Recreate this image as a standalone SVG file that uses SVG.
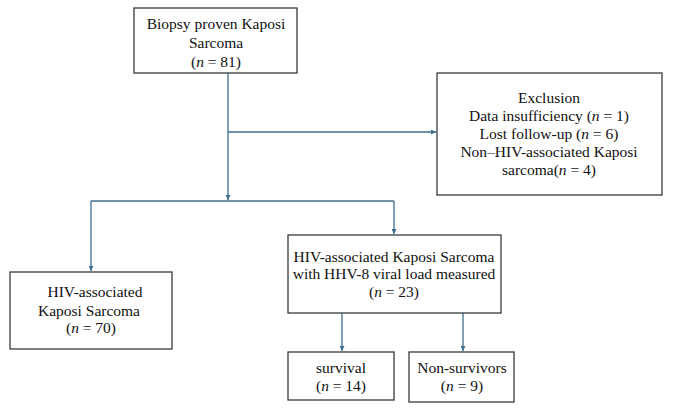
<svg xmlns="http://www.w3.org/2000/svg" width="673" height="408" viewBox="0 0 673 408">
<style>
.box{fill:#fff;stroke:#3a3a3a;stroke-width:1.3}
.t{font-family:"Liberation Serif","Times New Roman",serif;font-size:15.5px;fill:#111;text-anchor:middle}
.c{fill:none;stroke:#3f6d8c;stroke-width:1.3}
</style>
<defs>
<marker id="a" viewBox="0 0 6 6" refX="6" refY="3" markerWidth="5" markerHeight="5" orient="auto" markerUnits="userSpaceOnUse">
<path d="M0,0 L6,3 L0,6 z" fill="#3f6d8c"/>
</marker>
</defs>
<rect width="673" height="408" fill="#fff"/>
<g id="connectors">
<path class="c" d="M228,73 V200" marker-end="url(#a)"/>
<path class="c" d="M228,132 H436" marker-end="url(#a)"/>
<path class="c" d="M91,201 H394"/>
<path class="c" d="M91,201 V271" marker-end="url(#a)"/>
<path class="c" d="M394,201 V234" marker-end="url(#a)"/>
<path class="c" d="M342,313 V351" marker-end="url(#a)"/>
<path class="c" d="M463,313 V351" marker-end="url(#a)"/>
</g>
<g id="n1">
<rect class="box" x="134" y="8" width="163" height="65"/>
<text class="t" x="216" y="29">Biopsy proven Kaposi</text>
<text class="t" x="216" y="48">Sarcoma</text>
<text class="t" x="216" y="67">(<tspan font-style="italic">n</tspan> = 81)</text>
</g>
<g id="n2">
<rect class="box" x="437" y="73" width="225" height="122"/>
<text class="t" x="549" y="103">Exclusion</text>
<text class="t" x="549" y="121">Data insufficiency (<tspan font-style="italic">n</tspan> = 1)</text>
<text class="t" x="549" y="139">Lost follow-up (<tspan font-style="italic">n</tspan> = 6)</text>
<text class="t" x="549" y="157">Non–HIV-associated Kaposi</text>
<text class="t" x="549" y="175">sarcoma(<tspan font-style="italic">n</tspan> = 4)</text>
</g>
<g id="n3">
<rect class="box" x="10" y="272" width="162" height="77"/>
<text class="t" x="95" y="297">HIV-associated</text>
<text class="t" x="89" y="316">Kaposi Sarcoma</text>
<text class="t" x="91" y="333">(<tspan font-style="italic">n</tspan> = 70)</text>
</g>
<g id="n4">
<rect class="box" x="288" y="235" width="213" height="78"/>
<text class="t" x="394" y="262">HIV-associated Kaposi Sarcoma</text>
<text class="t" x="394" y="279">with HHV-8 viral load measured</text>
<text class="t" x="394" y="297">(<tspan font-style="italic">n</tspan> = 23)</text>
</g>
<g id="n5">
<rect class="box" x="288" y="352" width="106" height="48"/>
<text class="t" x="341" y="373">survival</text>
<text class="t" x="341" y="391">(<tspan font-style="italic">n</tspan> = 14)</text>
</g>
<g id="n6">
<rect class="box" x="409" y="352" width="105" height="50"/>
<text class="t" x="462" y="373">Non-survivors</text>
<text class="t" x="462" y="391">(<tspan font-style="italic">n</tspan> = 9)</text>
</g>
</svg>
